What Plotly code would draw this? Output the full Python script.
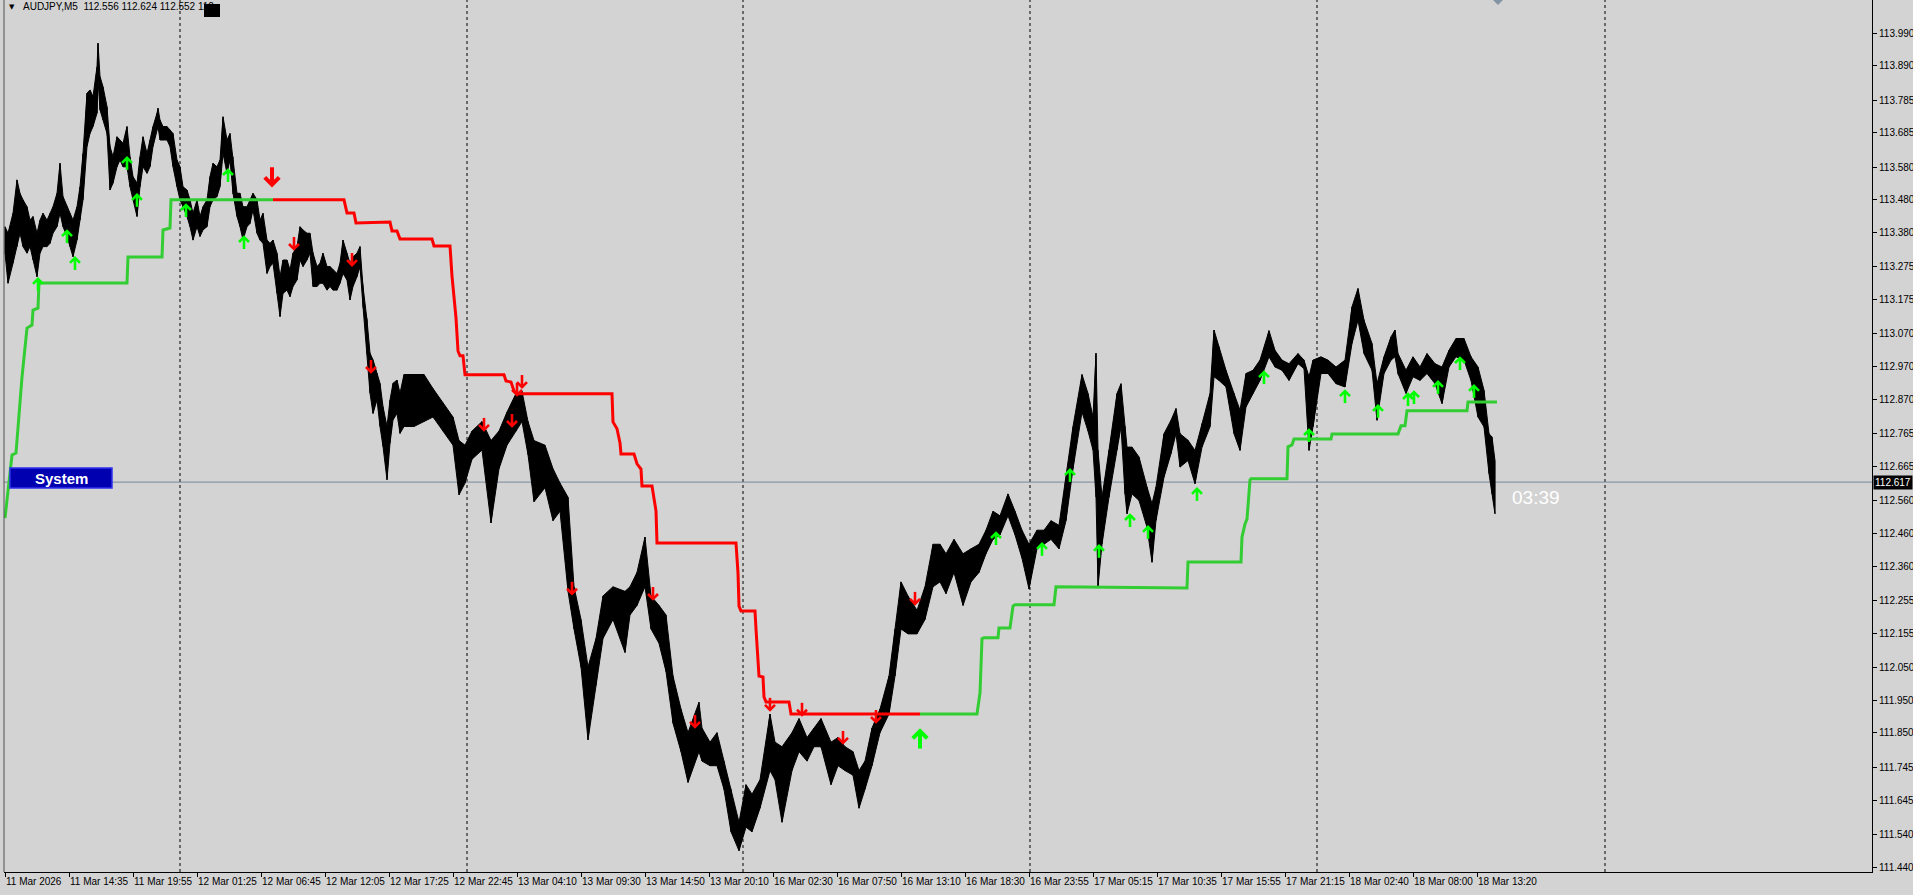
import plotly.graph_objects as go

# price bars: bar index (M5 bars from the left edge), high, low
bar_idx = [
    0, 3, 8, 12, 15, 18, 22, 25, 28, 32, 35, 38, 42, 45, 48, 52, 55, 58, 62, 65,
    68, 72, 75, 78, 82, 85, 88, 92, 93, 95, 98, 102, 105, 108, 112, 115, 118, 122, 125, 128,
    132, 135, 138, 142, 145, 148, 152, 153, 155, 158, 162, 165, 168, 172, 175, 178, 182, 185, 188, 192,
    195, 198, 202, 205, 208, 212, 215, 218, 222, 225, 228, 232, 235, 238, 242, 245, 248, 252, 255, 258,
    262, 265, 268, 272, 275, 278, 282, 285, 288, 292, 295, 298, 302, 305, 308, 312, 315, 318, 322, 325,
    328, 332, 335, 338, 342, 345, 348, 352, 355, 358, 362, 365, 368, 372, 375, 378, 382, 385, 388, 392,
    395, 399, 409, 419, 428, 438, 448, 454, 460, 467, 477, 486, 494, 502, 511, 517, 523, 529, 540, 548,
    555, 563, 569, 576, 583, 591, 598, 608, 620, 625, 632, 640, 646, 654, 661, 668, 676, 683, 694, 697,
    705, 712, 719, 726, 734, 741, 747, 755, 765, 770, 777, 787, 794, 802, 809, 816, 826, 833, 840, 848,
    854, 860, 867, 875, 884, 890, 896, 903, 912, 920, 928, 935, 941, 949, 958, 966, 974, 981, 988, 995,
    1003, 1010, 1017, 1024, 1032, 1039, 1046, 1054, 1061, 1068, 1077, 1083, 1088, 1091, 1093, 1097, 1104, 1112, 1116, 1120,
    1122, 1127, 1134, 1142, 1147, 1151, 1159, 1166, 1171, 1175, 1183, 1190, 1197, 1205, 1209, 1214, 1221, 1229, 1235, 1241,
    1248, 1255, 1264, 1270, 1277, 1284, 1293, 1299, 1304, 1308, 1316, 1323, 1331, 1340, 1347, 1353, 1359, 1367, 1372, 1379,
    1386, 1390, 1393, 1401, 1408, 1415, 1422, 1430, 1437, 1444, 1451, 1459, 1466, 1473, 1479, 1484, 1487, 1490,
]
bar_high = [
    113.398, 113.378, 113.439, 113.541, 113.500, 113.480, 113.459, 113.418, 113.429, 113.378,
    113.418, 113.439, 113.418, 113.439, 113.459, 113.500, 113.592, 113.490, 113.459, 113.439,
    113.418, 113.459, 113.520, 113.622, 113.806, 113.816, 113.796, 113.887, 113.959, 113.857,
    113.826, 113.765, 113.643, 113.612, 113.673, 113.663, 113.653, 113.704, 113.612, 113.551,
    113.531, 113.612, 113.673, 113.622, 113.663, 113.704, 113.745, 113.760, 113.724, 113.704,
    113.704, 113.694, 113.683, 113.602, 113.581, 113.520, 113.510, 113.480, 113.439, 113.480,
    113.429, 113.459, 113.480, 113.551, 113.592, 113.581, 113.602, 113.734, 113.663, 113.683,
    113.612, 113.500, 113.500, 113.459, 113.459, 113.480, 113.500, 113.480, 113.418, 113.439,
    113.357, 113.347, 113.357, 113.317, 113.245, 113.296, 113.296, 113.266, 113.317, 113.337,
    113.398, 113.388, 113.378, 113.378, 113.317, 113.276, 113.286, 113.317, 113.276, 113.276,
    113.266, 113.255, 113.286, 113.357, 113.317, 113.286, 113.306, 113.317, 113.337, 113.215,
    113.113, 113.011, 112.991, 112.950, 112.919, 112.848, 112.787, 112.868, 112.919, 112.929,
    112.889, 112.946, 112.946, 112.946, 112.903, 112.859, 112.816, 112.744, 112.730, 112.773,
    112.802, 112.744, 112.773, 112.831, 112.888, 112.895, 112.802, 112.744, 112.730, 112.658,
    112.614, 112.571, 112.297, 112.197, 112.052, 112.139, 112.269, 112.297, 112.283, 112.297,
    112.341, 112.449, 112.269, 112.240, 112.211, 112.024, 111.923, 111.851, 111.944, 111.865,
    111.822, 111.851, 111.764, 111.678, 111.577, 111.692, 111.663, 111.707, 111.908, 111.822,
    111.808, 111.851, 111.894, 111.836, 111.865, 111.894, 111.822, 111.836, 111.808, 111.793,
    111.735, 111.764, 111.865, 111.923, 112.024, 112.168, 112.312, 112.269, 112.225, 112.297,
    112.427, 112.427, 112.398, 112.442, 112.398, 112.413, 112.427, 112.470, 112.528, 112.514,
    112.581, 112.528, 112.470, 112.427, 112.470, 112.470, 112.499, 112.485, 112.629, 112.787,
    112.946, 112.888, 112.816, 113.011, 112.715, 112.571, 112.715, 112.888, 112.918, 112.786,
    112.724, 112.724, 112.694, 112.602, 112.551, 112.602, 112.765, 112.806, 112.842, 112.765,
    112.745, 112.714, 112.796, 112.888, 113.082, 113.031, 112.959, 112.888, 112.837, 112.949,
    112.959, 112.990, 113.080, 113.020, 112.990, 112.979, 113.010, 112.990, 112.939, 112.990,
    113.000, 112.990, 112.969, 112.990, 113.153, 113.209, 113.112, 113.041, 112.918, 113.000,
    113.061, 113.082, 113.010, 112.959, 113.000, 112.969, 113.010, 112.979, 112.969, 113.020,
    113.056, 113.056, 113.000, 112.969, 112.898, 112.765, 112.755, 112.683,
]
bar_low = [
    113.317, 113.225, 113.286, 113.337, 113.378, 113.337, 113.317, 113.337, 113.296, 113.245,
    113.317, 113.337, 113.337, 113.347, 113.378, 113.398, 113.439, 113.398, 113.368, 113.337,
    113.306, 113.357, 113.418, 113.480, 113.643, 113.683, 113.704, 113.745, 113.846, 113.755,
    113.724, 113.683, 113.510, 113.531, 113.581, 113.602, 113.581, 113.581, 113.520, 113.480,
    113.429, 113.520, 113.581, 113.561, 113.581, 113.643, 113.694, 113.704, 113.663, 113.663,
    113.663, 113.643, 113.581, 113.520, 113.480, 113.459, 113.429, 113.398, 113.357, 113.398,
    113.368, 113.388, 113.398, 113.459, 113.480, 113.490, 113.520, 113.622, 113.561, 113.602,
    113.500, 113.429, 113.398, 113.357, 113.398, 113.408, 113.449, 113.378, 113.357, 113.347,
    113.255, 113.276, 113.286, 113.194, 113.123, 113.194, 113.204, 113.184, 113.215, 113.235,
    113.296, 113.276, 113.296, 113.317, 113.215, 113.215, 113.225, 113.225, 113.204, 113.215,
    113.204, 113.204, 113.225, 113.255, 113.235, 113.174, 113.215, 113.245, 113.276, 113.154,
    113.011, 112.889, 112.827, 112.868, 112.787, 112.726, 112.624, 112.736, 112.807, 112.827,
    112.766, 112.787, 112.787, 112.802, 112.816, 112.773, 112.730, 112.578, 112.614, 112.687,
    112.715, 112.492, 112.658, 112.730, 112.773, 112.802, 112.701, 112.557, 112.600, 112.499,
    112.528, 112.283, 112.168, 112.052, 111.829, 111.995, 112.139, 112.197, 112.096, 112.211,
    112.240, 112.297, 112.168, 112.124, 112.038, 111.880, 111.793, 111.699, 111.793, 111.764,
    111.750, 111.750, 111.678, 111.548, 111.490, 111.562, 111.548, 111.620, 111.735, 111.707,
    111.577, 111.735, 111.793, 111.764, 111.808, 111.808, 111.692, 111.750, 111.735, 111.721,
    111.620, 111.678, 111.750, 111.851, 111.908, 112.024, 112.168, 112.153, 112.153, 112.197,
    112.297, 112.312, 112.276, 112.341, 112.240, 112.312, 112.341, 112.398, 112.442, 112.456,
    112.514, 112.456, 112.384, 112.290, 112.413, 112.427, 112.442, 112.413, 112.499, 112.658,
    112.831, 112.773, 112.715, 112.571, 112.297, 112.427, 112.571, 112.715, 112.786, 112.581,
    112.520, 112.581, 112.561, 112.479, 112.372, 112.500, 112.632, 112.704, 112.765, 112.663,
    112.683, 112.612, 112.724, 112.786, 112.939, 112.928, 112.908, 112.765, 112.714, 112.847,
    112.888, 112.928, 113.000, 112.969, 112.959, 112.928, 112.979, 112.964, 112.714, 112.786,
    112.949, 112.949, 112.918, 112.908, 113.041, 113.112, 113.010, 112.959, 112.806, 112.949,
    112.990, 113.000, 112.949, 112.888, 112.939, 112.928, 112.949, 112.918, 112.857, 112.969,
    113.000, 112.990, 112.928, 112.816, 112.786, 112.643, 112.581, 112.520,
]

# trailing stop line: green while long, red while short
green1_x = [0, 7, 11, 17, 22, 27, 28, 33, 34, 122, 123, 157, 158, 165, 166, 268]
green1_y = [112.507, 112.700, 112.706, 112.938, 113.088, 113.097, 113.143, 113.149, 113.226, 113.226,
            113.305, 113.305, 113.388, 113.394, 113.480, 113.480]
red_x = [268, 339, 342, 349, 351, 385, 387, 392, 395, 427, 429, 445, 447, 449, 451, 453, 455, 458, 460,
         499, 501, 506, 509, 513, 607, 608, 612, 615, 616, 629, 632, 636, 637, 647, 650, 651, 652, 731,
         733, 734, 736, 750, 751, 754, 758, 759, 761, 784, 786, 915]
red_y = [113.480, 113.480, 113.440, 113.440, 113.409, 113.412, 113.385, 113.385, 113.360, 113.360,
         113.339, 113.339, 113.247, 113.177, 113.119, 113.018, 113.003, 113.003, 112.945, 112.945,
         112.926, 112.923, 112.896, 112.887, 112.887, 112.801, 112.780, 112.737, 112.703, 112.703,
         112.673, 112.657, 112.605, 112.605, 112.556, 112.529, 112.431, 112.431, 112.339, 112.238,
         112.223, 112.223, 112.168, 112.024, 112.021, 111.960, 111.945, 111.945, 111.908, 111.908]
green2_x = [915, 972, 975, 977, 979, 993, 994, 1005, 1008, 1010, 1049, 1051, 1182, 1183, 1236, 1237,
            1240, 1242, 1245, 1246, 1282, 1283, 1287, 1289, 1326, 1327, 1393, 1396, 1400, 1402, 1462,
            1463, 1492]
green2_y = [111.908, 111.908, 111.973, 112.138, 112.141, 112.141, 112.171, 112.171, 112.238, 112.242,
            112.242, 112.297, 112.293, 112.373, 112.373, 112.449, 112.489, 112.504, 112.624, 112.627,
            112.627, 112.725, 112.731, 112.749, 112.749, 112.764, 112.764, 112.789, 112.789, 112.835,
            112.835, 112.862, 112.862]

# signal arrows (centre of each arrow)
up_x = [33, 62, 70, 122, 132, 181, 223, 239, 991, 1037, 1065, 1094, 1125, 1143, 1192, 1259, 1304,
        1340, 1373, 1403, 1409, 1433, 1455, 1469]
up_y = [113.220, 113.366, 113.284, 113.590, 113.477, 113.446, 113.553, 113.348, 112.443, 112.410,
        112.636, 112.404, 112.498, 112.462, 112.578, 112.935, 112.758, 112.877, 112.832, 112.868,
        112.874, 112.905, 112.978, 112.893]
down_x = [289, 347, 366, 479, 507, 512, 517, 567, 648, 690, 765, 797, 838, 871, 910]
down_y = [113.348, 113.299, 112.972, 112.795, 112.807, 112.902, 112.926, 112.294, 112.278, 111.887,
          111.939, 111.924, 111.838, 111.902, 112.263]
big_down_x = [267]
big_down_y = [113.553]
big_up_x = [915]
big_up_y = [111.829]

price_ticks = [113.990, 113.890, 113.785, 113.685, 113.580, 113.480, 113.380, 113.275, 113.175,
               113.070, 112.970, 112.870, 112.765, 112.665, 112.560, 112.460, 112.360, 112.255,
               112.155, 112.050, 111.950, 111.850, 111.745, 111.645, 111.540, 111.440]
price_labels = [f"{v:.3f}" for v in price_ticks]
date_ticks = [0, 64, 128, 192, 256, 320, 384, 448, 512, 576, 640, 704, 768, 832, 896, 960, 1024,
              1088, 1152, 1216, 1280, 1344, 1408, 1472]
date_labels = ["11 Mar 2026", "11 Mar 14:35", "11 Mar 19:55", "12 Mar 01:25", "12 Mar 06:45",
               "12 Mar 12:05", "12 Mar 17:25", "12 Mar 22:45", "13 Mar 04:10", "13 Mar 09:30",
               "13 Mar 14:50", "13 Mar 20:10", "16 Mar 02:30", "16 Mar 07:50", "16 Mar 13:10",
               "16 Mar 18:30", "16 Mar 23:55", "17 Mar 05:15", "17 Mar 10:35", "17 Mar 15:55",
               "17 Mar 21:15", "18 Mar 02:40", "18 Mar 08:00", "18 Mar 13:20"]
day_breaks = [175, 462, 738, 1025, 1312, 1600]
bid = 112.617
header = "AUDJPY,M5\u00a0 112.556 112.624 112.552 112."
timer = "03:39"

BG = "#d3d3d3"
FONT = "Liberation Sans"
Y_RANGE = [111.425, 114.091]
PLOT_H = 872
PX = (Y_RANGE[1] - Y_RANGE[0]) / PLOT_H  # price per screen pixel, for glyph sizes

fig = go.Figure()

# bars: filled high/low ribbon with a zigzag on top for the jagged look
fig.add_trace(go.Scatter(x=bar_idx, y=bar_high, mode="lines", line=dict(color="black", width=1),
                         hoverinfo="skip"))
fig.add_trace(go.Scatter(x=bar_idx, y=bar_low, mode="lines", line=dict(color="black", width=1),
                         fill="tonexty", fillcolor="black", hoverinfo="skip"))
zx, zy = [], []
for b, h, l in zip(bar_idx, bar_high, bar_low):
    zx += [b, b]
    zy += [h, l]
fig.add_trace(go.Scatter(x=zx, y=zy, mode="lines", line=dict(color="black", width=1.2),
                         hoverinfo="skip"))

for xs, ys, col in [(green1_x, green1_y, "#32cd32"), (red_x, red_y, "#ff0000"),
                    (green2_x, green2_y, "#32cd32")]:
    fig.add_trace(go.Scatter(x=xs, y=ys, mode="lines", line=dict(color=col, width=3)))


def arrows(xs, ys, up, col, scale, width):
    # stem plus chevron, sized in screen pixels
    s = 1 if up else -1
    ax, ay = [], []
    for x, y in zip(xs, ys):
        tip = y + s * 6 * scale * PX
        ax += [x, x, None, x - 5 * scale, x, x + 5 * scale, None]
        ay += [y - s * 6 * scale * PX, tip, None, tip - s * 5 * scale * PX, tip, tip - s * 5 * scale * PX, None]
    fig.add_trace(go.Scatter(x=ax, y=ay, mode="lines", line=dict(color=col, width=width),
                             hoverinfo="skip"))


arrows(up_x, up_y, True, "#00ff00", 1.0, 2.6)
arrows(down_x, down_y, False, "#ff0000", 1.0, 2.6)
arrows(big_down_x, big_down_y, False, "#ff0000", 1.45, 4)
arrows(big_up_x, big_up_y, True, "#00ff00", 1.45, 4)

shapes = []
for d in day_breaks:
    shapes.append(dict(type="line", xref="x", yref="paper", x0=d, x1=d, y0=0, y1=1,
                       line=dict(color="black", width=1, dash="3px,3px"), layer="below"))
shapes.append(dict(type="line", xref="paper", yref="y", x0=0, x1=1, y0=bid, y1=bid,
                   line=dict(color="#778899", width=1), layer="below"))
shapes.append(dict(type="line", xref="paper", yref="paper", x0=0, x1=0, y0=0, y1=1,
                   line=dict(color="#505050", width=1)))
# black square next to the header
shapes.append(dict(type="rect", xref="x", yref="paper", x0=199, x1=215, y0=1 - 17 / PLOT_H, y1=1 - 4 / PLOT_H,
                   fillcolor="black", line=dict(width=0)))
# "System" button
shapes.append(dict(type="rect", xref="x", yref="paper", x0=5, x1=107, y0=1 - 488 / PLOT_H, y1=1 - 468 / PLOT_H,
                   fillcolor="#0000b0", line=dict(color="#3030f0", width=1.5)))
# small grey marker peeking in at the top edge
shapes.append(dict(type="path", xref="x", yref="paper",
                   path=f"M 1488,1 L 1493,{1 - 5 / PLOT_H} L 1498,1 Z",
                   fillcolor="#8494a4", line=dict(width=0)))

annotations = [
    dict(xref="paper", yref="paper", x=17 / 1868, y=1 - 7 / PLOT_H, xanchor="left", yanchor="middle",
         text=header, showarrow=False, font=dict(family=FONT, size=10, color="black")),
    dict(xref="paper", yref="paper", x=8 / 1868, y=1 - 7 / PLOT_H, xanchor="center", yanchor="middle",
         text="▼", showarrow=False, font=dict(family="DejaVu Sans", size=7, color="black")),
    dict(xref="x", yref="paper", x=56, y=1 - 478 / PLOT_H, xanchor="center", yanchor="middle",
         text="<b>System</b>", showarrow=False, font=dict(family=FONT, size=15, color="white")),
    dict(xref="x", yref="y", x=1505, y=bid, xanchor="left", yanchor="top", yshift=-3,
         text=timer, showarrow=False, font=dict(family=FONT, size=19, color="white")),
    dict(xref="paper", yref="y", x=1, y=bid, xanchor="left", yanchor="middle", xshift=1,
         text=f"{bid:.3f}", showarrow=False, bgcolor="black", borderpad=1,
         font=dict(family=FONT, size=10, color="white")),
]

fig.update_layout(
    width=1913, height=895,
    margin=dict(l=4, r=41, t=0, b=23),
    paper_bgcolor=BG, plot_bgcolor=BG,
    showlegend=False,
    shapes=shapes, annotations=annotations,
    xaxis=dict(range=[-1, 1867], showgrid=False, zeroline=False, showline=True, linecolor="black",
               linewidth=1, ticks="outside", ticklen=4, tickcolor="black", tickvals=date_ticks,
               ticktext=date_labels, ticklabelposition="outside right", tickangle=0, automargin=False,
               tickfont=dict(family=FONT, size=10, color="black")),
    yaxis=dict(side="right", range=Y_RANGE, showgrid=False, zeroline=False, showline=True,
               linecolor="black", linewidth=1, ticks="outside", ticklen=4, tickcolor="black",
               tickvals=price_ticks, ticktext=price_labels, automargin=False,
               tickfont=dict(family=FONT, size=10, color="black")),
)

fig.write_html("out.html", config={"displayModeBar": False},
               post_script="document.body.style.margin='0px';document.body.style.overflow='hidden';")
